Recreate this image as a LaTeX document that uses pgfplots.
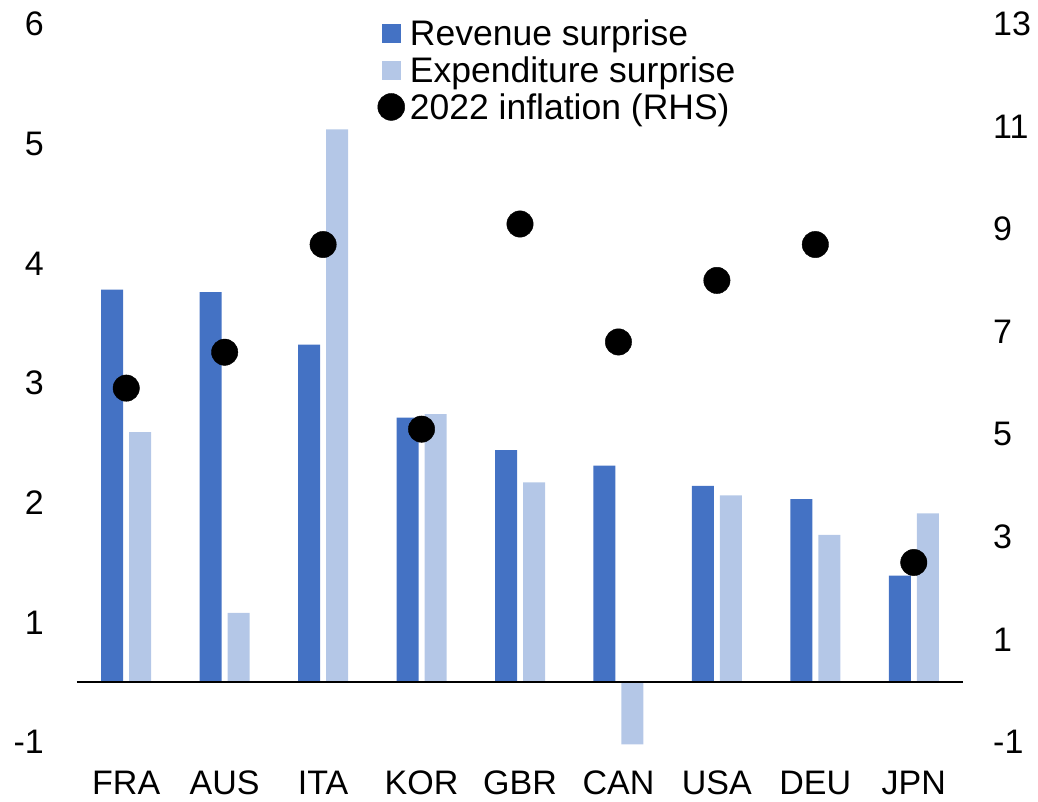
\documentclass[border=0pt]{standalone}
\usepackage{pgfplots}
\pgfplotsset{compat=1.18}
\usepackage{fontspec}
\setmainfont{Liberation Sans}
\definecolor{rev}{HTML}{4472C4}
\definecolor{expd}{HTML}{B4C7E7}
\newcommand{\bigf}{\fontsize{34}{40}\selectfont}
\newcommand{\legf}{\fontsize{35.5}{40}\selectfont}

\begin{document}
\begin{tikzpicture}[x=1pt,y=1pt]
\useasboundingbox (-77,-60) rectangle (961,742);
\begin{axis}[
 at={(0,0)}, anchor=south west,
 scale only axis, width=886pt, height=718pt,
 xmin=-0.5, xmax=8.5, ymin=-0.5, ymax=5.5,
 axis line style={draw=none}, major tick style={draw=none},
 axis y line*=left, axis x line*=bottom,
 xtick={0,...,8}, xticklabels={FRA,AUS,ITA,KOR,GBR,CAN,USA,DEU,JPN},
 ytick={-0.5,0.5,1.5,2.5,3.5,4.5,5.5}, yticklabels={-1,1,2,3,4,5,6},
 tick label style={font=\bigf, inner sep=0pt},
 xticklabel style={anchor=base, yshift=-53pt},
 yticklabel style={anchor=east, xshift=-33pt},
 clip=false,
]
\addplot[ybar, bar width=22pt, bar shift=-14pt, fill=rev, draw=none] coordinates {
 (0,3.28) (1,3.26) (2,2.82) (3,2.21) (4,1.94) (5,1.81) (6,1.64) (7,1.53) (8,0.89)};
\addplot[ybar, bar width=22pt, bar shift=14pt, fill=expd, draw=none] coordinates {
 (0,2.09) (1,0.58) (2,4.62) (3,2.24) (4,1.67) (5,-0.52) (6,1.56) (7,1.23) (8,1.41)};
\draw[black, line width=2pt] (axis cs:-0.5,0) -- (axis cs:8.5,0);
\end{axis}
\begin{axis}[
 at={(0,0)}, anchor=south west,
 scale only axis, width=886pt, height=718pt,
 xmin=-0.5, xmax=8.5, ymin=-1, ymax=13,
 axis line style={draw=none}, major tick style={draw=none},
 axis y line*=right, axis x line=none,
 ytick={-1,1,3,5,7,9,11,13}, yticklabels={-1,1,3,5,7,9,11,13},
 tick label style={font=\bigf, inner sep=0pt},
 yticklabel style={anchor=west, xshift=30pt},
 legend style={draw=none, fill=none, at={(0.339,1.008)}, anchor=north west,
   font=\legf, row sep=0pt, inner sep=0pt,
   nodes={inner sep=0pt, text height=27pt, text depth=10pt}},
 legend cell align=left,
 clip=false,
]
\addlegendimage{legend image code/.code={\path (0pt,0pt) (32pt,0pt); \fill[rev] (4.5pt,-5.5pt) rectangle (22.5pt,12.5pt);}}
\addlegendentry{Revenue surprise}
\addlegendimage{legend image code/.code={\path (0pt,0pt) (32pt,0pt); \fill[expd] (4.5pt,-5.5pt) rectangle (22.5pt,12.5pt);}}
\addlegendentry{Expenditure surprise}
\addplot[only marks, mark=*, mark size=13.2pt, black,
  legend image code/.code={\path (0pt,0pt) (32pt,0pt); \fill[black] (13.5pt,4pt) circle (13.5pt);}] coordinates {
 (0,5.9) (1,6.6) (2,8.7) (3,5.1) (4,9.1) (5,6.8) (6,8.0) (7,8.7) (8,2.5)};
\addlegendentry{2022 inflation (RHS)}
\end{axis}
\end{tikzpicture}
\end{document}
